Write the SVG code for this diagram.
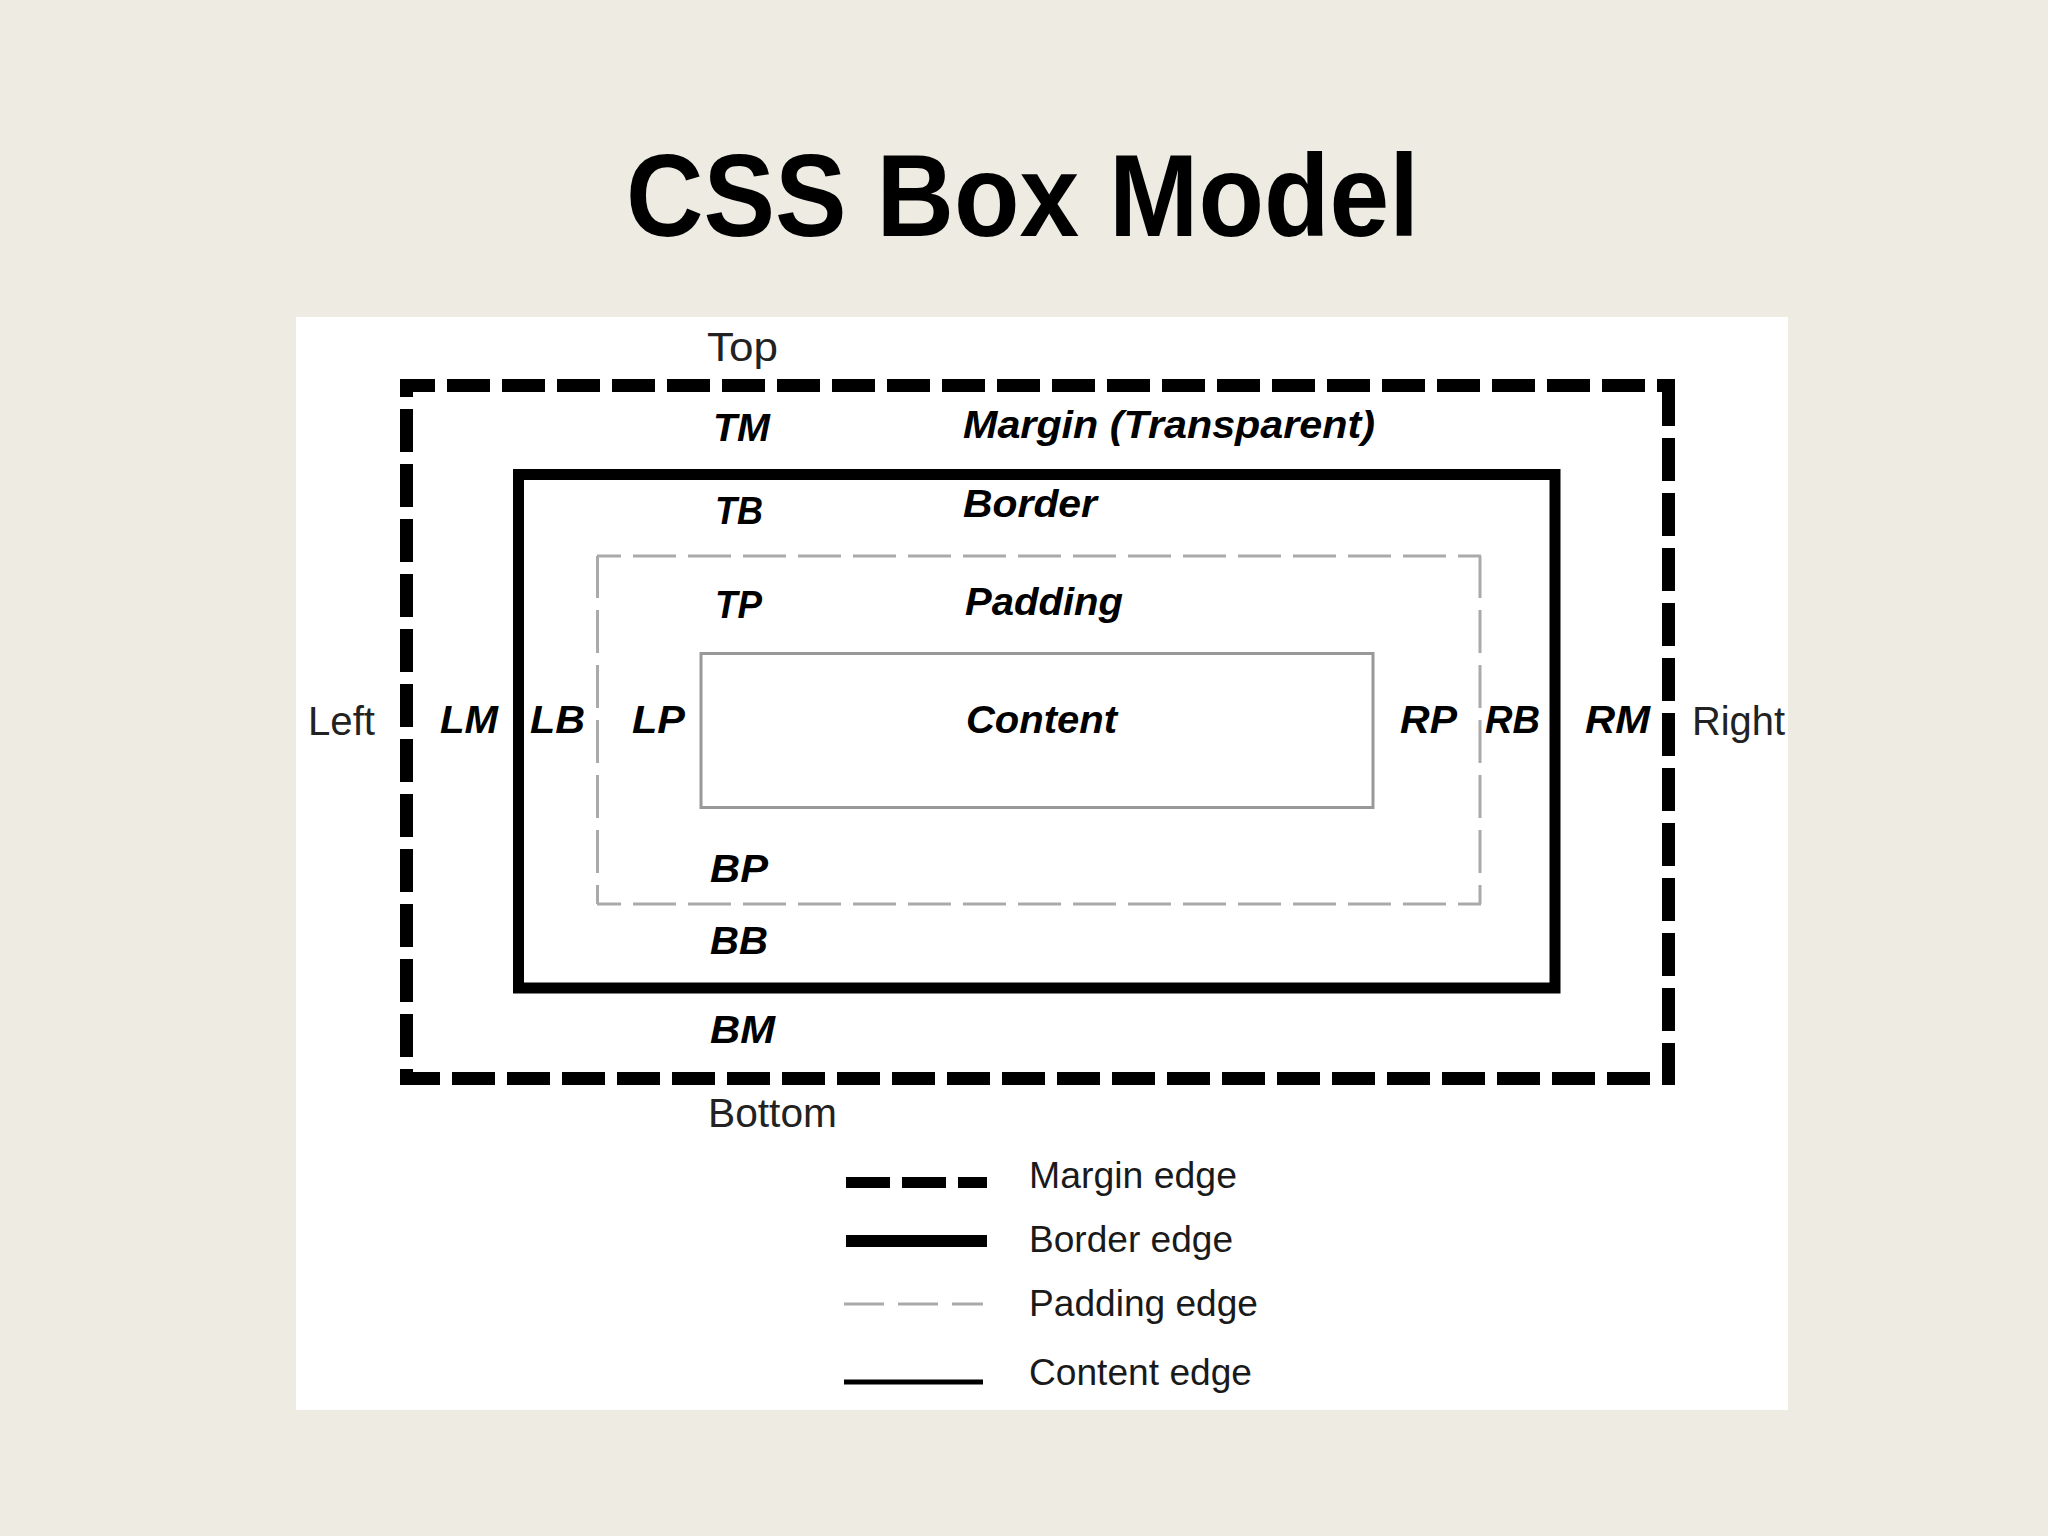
<svg xmlns="http://www.w3.org/2000/svg" width="2048" height="1536" viewBox="0 0 2048 1536">
  <style>
    .lab { font-family: "Liberation Sans", Arial, sans-serif; font-weight: bold; font-style: italic; font-size: 39px; fill: #000; }
    .side { font-family: "Liberation Sans", Arial, sans-serif; font-size: 40px; fill: #222; }
    .leg { font-family: "Liberation Sans", Arial, sans-serif; font-size: 36px; fill: #1a1a1a; }
    .title { font-family: "Liberation Sans", Arial, sans-serif; font-weight: bold; font-size: 117px; fill: #000; }
    .mline { stroke: #000; stroke-width: 13; stroke-dasharray: 43 12; fill: none; }
    .pline { stroke: #aaa; stroke-width: 3; stroke-dasharray: 43 12; fill: none; }
  </style>
  <rect x="0" y="0" width="2048" height="1536" fill="#EEEBE3"/>
  <text class="title" x="626" y="236" textLength="793" lengthAdjust="spacingAndGlyphs">CSS Box Model</text>
  <rect x="296" y="317" width="1492" height="1093" fill="#FFFFFF"/>

  <g id="margin-box">
    <line class="mline" x1="400" y1="385.5" x2="1675" y2="385.5" stroke-dashoffset="8"/>
    <line class="mline" x1="400" y1="1078.5" x2="1675" y2="1078.5" stroke-dashoffset="3"/>
    <line class="mline" x1="406.5" y1="379" x2="406.5" y2="1085" stroke-dashoffset="25"/>
    <line class="mline" x1="1668.5" y1="383" x2="1668.5" y2="1085"/>
  </g>
  <g id="border-box">
    <rect x="518.5" y="474.5" width="1036.5" height="513.5" fill="none" stroke="#000" stroke-width="11"/>
  </g>
  <g id="padding-box">
    <line class="pline" x1="597" y1="556" x2="1481" y2="556" stroke-dashoffset="19"/>
    <line class="pline" x1="597" y1="904" x2="1481" y2="904" stroke-dashoffset="19"/>
    <line class="pline" x1="597.5" y1="556" x2="597.5" y2="904" stroke-dashoffset="1"/>
    <line class="pline" x1="1480" y1="556" x2="1480" y2="904" stroke-dashoffset="1"/>
  </g>
  <g id="content-box">
    <rect x="701" y="653.5" width="672" height="154" fill="none" stroke="#999" stroke-width="3"/>
  </g>

  <g id="side-labels">
    <text class="side" x="707" y="361" textLength="71" lengthAdjust="spacingAndGlyphs">Top</text>
    <text class="side" x="308" y="735" textLength="67" lengthAdjust="spacingAndGlyphs">Left</text>
    <text class="side" x="1692" y="735" textLength="93" lengthAdjust="spacingAndGlyphs">Right</text>
    <text class="side" x="708" y="1127" textLength="129" lengthAdjust="spacingAndGlyphs">Bottom</text>
  </g>

  <g id="area-labels">
    <text class="lab" x="963" y="438" textLength="412" lengthAdjust="spacingAndGlyphs">Margin (Transparent)</text>
    <text class="lab" x="963" y="517" textLength="134" lengthAdjust="spacingAndGlyphs">Border</text>
    <text class="lab" x="965" y="615" textLength="158" lengthAdjust="spacingAndGlyphs">Padding</text>
    <text class="lab" x="966" y="733" textLength="151" lengthAdjust="spacingAndGlyphs">Content</text>
  </g>

  <g id="edge-labels">
    <text class="lab" x="713" y="441" textLength="57" lengthAdjust="spacingAndGlyphs">TM</text>
    <text class="lab" x="715" y="524" textLength="48" lengthAdjust="spacingAndGlyphs">TB</text>
    <text class="lab" x="715" y="618" textLength="47" lengthAdjust="spacingAndGlyphs">TP</text>
    <text class="lab" x="440" y="733" textLength="58" lengthAdjust="spacingAndGlyphs">LM</text>
    <text class="lab" x="530" y="733" textLength="55" lengthAdjust="spacingAndGlyphs">LB</text>
    <text class="lab" x="632" y="733" textLength="53" lengthAdjust="spacingAndGlyphs">LP</text>
    <text class="lab" x="1400" y="733" textLength="57" lengthAdjust="spacingAndGlyphs">RP</text>
    <text class="lab" x="1485" y="733" textLength="55" lengthAdjust="spacingAndGlyphs">RB</text>
    <text class="lab" x="1585" y="733" textLength="65" lengthAdjust="spacingAndGlyphs">RM</text>
    <text class="lab" x="710" y="882" textLength="58" lengthAdjust="spacingAndGlyphs">BP</text>
    <text class="lab" x="710" y="954" textLength="58" lengthAdjust="spacingAndGlyphs">BB</text>
    <text class="lab" x="710" y="1043" textLength="65" lengthAdjust="spacingAndGlyphs">BM</text>
  </g>

  <g id="legend">
    <line x1="846" y1="1182.5" x2="987" y2="1182.5" stroke="#000" stroke-width="11" stroke-dasharray="44 12"/>
    <line x1="846" y1="1241" x2="987" y2="1241" stroke="#000" stroke-width="12"/>
    <line x1="844" y1="1304" x2="983" y2="1304" stroke="#aaa" stroke-width="3" stroke-dasharray="40 14"/>
    <line x1="844" y1="1382" x2="983" y2="1382" stroke="#000" stroke-width="5"/>
    <text class="leg" x="1029" y="1188" textLength="208" lengthAdjust="spacingAndGlyphs">Margin edge</text>
    <text class="leg" x="1029" y="1252" textLength="204" lengthAdjust="spacingAndGlyphs">Border edge</text>
    <text class="leg" x="1029" y="1316" textLength="229" lengthAdjust="spacingAndGlyphs">Padding edge</text>
    <text class="leg" x="1029" y="1385" textLength="223" lengthAdjust="spacingAndGlyphs">Content edge</text>
  </g>
  <g id="connectors"/>
</svg>
